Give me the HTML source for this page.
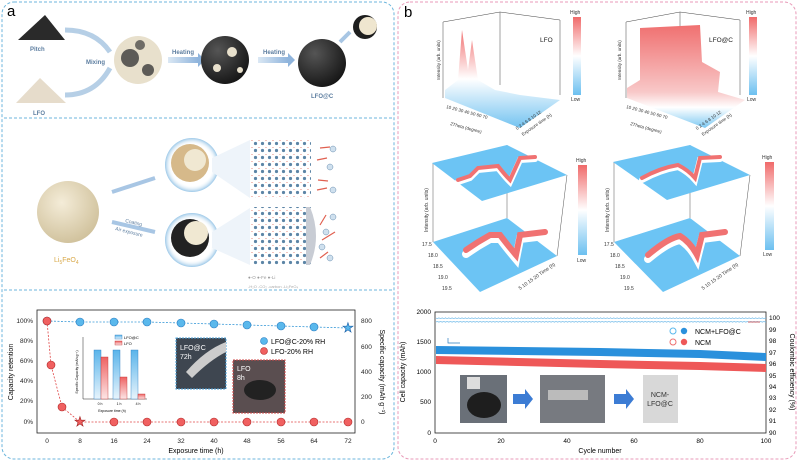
<!DOCTYPE html>
<html><head><meta charset="utf-8"><style>
body{margin:0;background:#fff}
svg{display:block;font-family:"Liberation Sans",sans-serif}
</style></head><body>
<svg width="800" height="462" viewBox="0 0 800 462" xmlns="http://www.w3.org/2000/svg">
<defs>
<linearGradient id="rwb" x1="0" y1="0" x2="0" y2="1"><stop offset="0" stop-color="#f06a6a"/><stop offset="0.5" stop-color="#fff"/><stop offset="1" stop-color="#6cc0f0"/></linearGradient>
<linearGradient id="rwb2" x1="0" y1="0" x2="0" y2="1"><stop offset="0" stop-color="#f07070"/><stop offset="0.65" stop-color="#f8c8c8"/><stop offset="0.8" stop-color="#fff"/><stop offset="1" stop-color="#7cc8f2"/></linearGradient>
<linearGradient id="barb" x1="0" y1="0" x2="0" y2="1"><stop offset="0" stop-color="#5ab4ea"/><stop offset="1" stop-color="#e8f4fc"/></linearGradient>
<linearGradient id="barr" x1="0" y1="0" x2="0" y2="1"><stop offset="0" stop-color="#ee6262"/><stop offset="1" stop-color="#fce6e6"/></linearGradient>
<radialGradient id="ballw" cx="0.4" cy="0.35" r="0.7"><stop offset="0" stop-color="#f4ecd8"/><stop offset="1" stop-color="#cfc09a"/></radialGradient>
<radialGradient id="ballk" cx="0.35" cy="0.3" r="0.75"><stop offset="0" stop-color="#555"/><stop offset="1" stop-color="#151515"/></radialGradient>
<radialGradient id="bub" cx="0.5" cy="0.5" r="0.5"><stop offset="0.75" stop-color="#fff" stop-opacity="0"/><stop offset="1" stop-color="#9cc8e8"/></radialGradient>
<linearGradient id="arr" x1="0" y1="0" x2="1" y2="0"><stop offset="0" stop-color="#dbe8f4"/><stop offset="1" stop-color="#8fb4dc"/></linearGradient>
<pattern id="lat" width="7" height="7" patternUnits="userSpaceOnUse"><circle cx="3.5" cy="3.5" r="1.6" fill="#3f6f96"/><circle cx="0" cy="0" r="0.8" fill="#e07060"/><circle cx="7" cy="0" r="0.8" fill="#e07060"/></pattern>
<pattern id="oc" width="3.3" height="8" patternUnits="userSpaceOnUse"><circle cx="1.65" cy="4" r="2.4" fill="none" stroke="#6cb8e8" stroke-width="0.7"/></pattern>
<pattern id="bc" width="3.3" height="8" patternUnits="userSpaceOnUse"><circle cx="1.65" cy="4" r="2.8" fill="#2a90dc" stroke="#1a6cb0" stroke-width="0.4"/></pattern>
<pattern id="rc" width="3.3" height="8" patternUnits="userSpaceOnUse"><circle cx="1.65" cy="4" r="2.8" fill="#ee5858" stroke="#c03838" stroke-width="0.4"/></pattern>
</defs>

<rect x="2" y="2" width="392" height="457" rx="12" fill="none" stroke="#6cb6dc" stroke-dasharray="3,2"/>
<line x1="4" y1="118" x2="392" y2="118" stroke="#6cb6dc" stroke-dasharray="3,2"/>
<line x1="4" y1="290" x2="392" y2="290" stroke="#6cb6dc" stroke-dasharray="3,2"/>
<rect x="398" y="2" width="398" height="457" rx="12" fill="none" stroke="#e89ab8" stroke-dasharray="3,2"/>
<text x="7" y="16" font-size="15">a</text>
<text x="404" y="17" font-size="15">b</text>

<polygon points="18,40 45,15 65,40" fill="#2a2a2a"/>
<text x="30" y="51" font-size="6" font-weight="bold" fill="#5d7ea0">Pitch</text>
<polygon points="16,103 40,78 66,103" fill="#e6dccb"/>
<text x="33" y="115" font-size="6" font-weight="bold" fill="#5d7ea0">LFO</text>
<path d="M65,30 Q95,30 110,52" stroke="#b6cfe6" stroke-width="5" fill="none"/>
<path d="M65,95 Q95,95 110,68" stroke="#b6cfe6" stroke-width="5" fill="none"/>
<text x="86" y="64" font-size="6" font-weight="bold" fill="#5d7ea0">Mixing</text>
<circle cx="138" cy="60" r="24" fill="#e8e0cc"/>
<circle cx="130" cy="58" r="9" fill="#3a3a3a" opacity="0.8"/><circle cx="148" cy="70" r="6" fill="#3a3a3a" opacity="0.8"/><circle cx="140" cy="45" r="5" fill="#3a3a3a" opacity="0.7"/>
<rect x="168" y="57" width="30" height="6" fill="url(#arr)"/><polygon points="198,53 205,60 198,67" fill="#8fb4dc"/>
<text x="172" y="54" font-size="6" font-weight="bold" fill="#5d7ea0">Heating</text>
<circle cx="225" cy="60" r="24" fill="url(#ballk)"/>
<circle cx="232" cy="52" r="5" fill="#e8e0cc"/><circle cx="217" cy="68" r="4" fill="#e8e0cc"/><circle cx="240" cy="70" r="3" fill="#e8e0cc"/>
<rect x="258" y="57" width="30" height="6" fill="url(#arr)"/><polygon points="288,53 295,60 288,67" fill="#8fb4dc"/>
<text x="263" y="54" font-size="6" font-weight="bold" fill="#5d7ea0">Heating</text>
<circle cx="322" cy="63" r="24" fill="url(#ballk)"/>
<text x="311" y="98" font-size="6" font-weight="bold" fill="#5d7ea0">LFO@C</text>
<line x1="340" y1="42" x2="350" y2="32" stroke="#a8c6e4" stroke-width="4"/>
<circle cx="365" cy="27" r="12" fill="#1e1e1e"/><circle cx="368" cy="26" r="9" fill="#efe6cf"/>

<circle cx="68" cy="212" r="31" fill="url(#ballw)"/>
<text x="54" y="262" font-size="7" fill="#d9a94a">Li<tspan font-size="5" dy="2">5</tspan><tspan dy="-2">FeO</tspan><tspan font-size="5" dy="2">4</tspan></text>
<line x1="112" y1="192" x2="155" y2="178" stroke="#a8c6e4" stroke-width="4"/>
<line x1="112" y1="222" x2="155" y2="232" stroke="#a8c6e4" stroke-width="4"/>
<text x="125" y="222" font-size="5" fill="#5d7ea0" transform="rotate(14 125 222)">Coating</text>
<text x="115" y="230" font-size="5" fill="#5d7ea0" transform="rotate(14 115 230)">Air exposure</text>
<circle cx="192" cy="165" r="27" fill="url(#bub)"/><circle cx="190" cy="163" r="19" fill="#d6b98a"/><circle cx="195" cy="160" r="11" fill="#f0e8d2"/>
<circle cx="192" cy="240" r="27" fill="url(#bub)"/><circle cx="190" cy="238" r="19" fill="#222"/><circle cx="196" cy="233" r="12" fill="#f0e8d2"/>
<polygon points="212,158 250,140 250,198 212,172" fill="#eef4fa"/>
<polygon points="212,232 250,208 250,265 212,248" fill="#eef4fa"/>
<rect x="251" y="140" width="60" height="58" fill="url(#lat)" opacity="0.85"/>
<rect x="251" y="207" width="60" height="58" fill="url(#lat)" opacity="0.85"/>
<path d="M310,207 Q322,236 310,265 L306,265 L306,207Z" fill="#c8ccd4"/>
<g stroke="#e06050" stroke-width="1.2"><line x1="320" y1="148" x2="330" y2="147"/><line x1="317" y1="160" x2="327" y2="158"/><line x1="318" y1="180" x2="328" y2="181"/><line x1="317" y1="190" x2="327" y2="188"/><line x1="320" y1="225" x2="326" y2="215"/><line x1="322" y1="240" x2="335" y2="232"/><line x1="320" y1="258" x2="328" y2="252"/></g>
<g fill="#cfe0ee" stroke="#6a8eb0" stroke-width="0.5"><circle cx="333" cy="149" r="3"/><circle cx="330" cy="167" r="3"/><circle cx="333" cy="190" r="3"/><circle cx="333" cy="217" r="3"/><circle cx="326" cy="232" r="3"/><circle cx="322" cy="247" r="3"/><circle cx="330" cy="258" r="3"/></g>
<text x="248" y="279" font-size="4.5" fill="#999">●-O   ●-Fe   ●-Li</text>
<text x="248" y="288" font-size="4" fill="#aaa">-H₂O  -CO₂  -carbon  -Li₅FeO₄</text>

<rect x="37" y="310" width="318" height="123" fill="none" stroke="#222" stroke-width="0.8"/>
<g font-size="6.5" fill="#222" text-anchor="end">
<text x="33" y="323">100%</text><text x="33" y="343">80%</text><text x="33" y="363">60%</text><text x="33" y="383">40%</text><text x="33" y="403">20%</text><text x="33" y="424">0%</text></g>
<g font-size="6.5" fill="#222"><text x="361" y="323">800</text><text x="361" y="349">600</text><text x="361" y="374">400</text><text x="361" y="399">200</text><text x="361" y="424">0</text></g>
<g font-size="6.5" fill="#222" text-anchor="middle">
<text x="47" y="443">0</text><text x="80" y="443">8</text><text x="114" y="443">16</text><text x="147" y="443">24</text><text x="181" y="443">32</text><text x="214" y="443">40</text><text x="247" y="443">48</text><text x="281" y="443">56</text><text x="314" y="443">64</text><text x="348" y="443">72</text></g>
<text x="196" y="453" font-size="7" text-anchor="middle">Exposure time (h)</text>
<text x="13" y="372" font-size="7" text-anchor="middle" transform="rotate(-90 13 372)">Capacity retention</text>
<text x="380" y="372" font-size="7" text-anchor="middle" transform="rotate(90 380 372)">Specific capacity (mAh g⁻¹)</text>
<polyline points="47,321 80,322 114,322 147,322 181,323 214,324 247,325 281,326 314,327 348,328" fill="none" stroke="#3a9ad8" stroke-width="0.8" stroke-dasharray="2,1.5"/>
<g fill="#5ab8ec" stroke="#2a7cc0" stroke-width="0.6"><circle cx="47" cy="321" r="4"/><circle cx="80" cy="322" r="4"/><circle cx="114" cy="322" r="4"/><circle cx="147" cy="322" r="4"/><circle cx="181" cy="323" r="4"/><circle cx="214" cy="324" r="4"/><circle cx="247" cy="325" r="4"/><circle cx="281" cy="326" r="4"/><circle cx="314" cy="327" r="4"/></g>
<text x="348" y="332" font-size="13" fill="#5ab8ec" stroke="#1a60a8" stroke-width="0.6" text-anchor="middle">★</text>
<polyline points="47,321 51,365 62,407 80,422 348,422" fill="none" stroke="#e04848" stroke-width="0.8" stroke-dasharray="2,1.5"/>
<g fill="#f06060" stroke="#b02828" stroke-width="0.6"><circle cx="47" cy="321" r="4"/><circle cx="51" cy="365" r="4"/><circle cx="62" cy="407" r="4"/><circle cx="114" cy="422" r="4"/><circle cx="147" cy="422" r="4"/><circle cx="181" cy="422" r="4"/><circle cx="214" cy="422" r="4"/><circle cx="247" cy="422" r="4"/><circle cx="281" cy="422" r="4"/><circle cx="314" cy="422" r="4"/><circle cx="348" cy="422" r="4"/></g>
<text x="80" y="426" font-size="13" fill="#f06060" stroke="#a02020" stroke-width="0.6" text-anchor="middle">★</text>
<circle cx="264" cy="341" r="3.5" fill="#5ab8ec" stroke="#2a7cc0" stroke-width="0.6"/>
<text x="271" y="344" font-size="7">LFO@C-20% RH</text>
<circle cx="264" cy="351" r="3.5" fill="#f06060" stroke="#b02828" stroke-width="0.6"/>
<text x="271" y="354" font-size="7">LFO-20% RH</text>
<line x1="83" y1="337" x2="83" y2="399" stroke="#222" stroke-width="0.5"/><line x1="83" y1="399" x2="147" y2="399" stroke="#222" stroke-width="0.5"/>
<rect x="94" y="350" width="7" height="49" fill="url(#barb)" stroke="#2a7cc0" stroke-width="0.4"/>
<rect x="101" y="357" width="7" height="42" fill="url(#barr)" stroke="#c03030" stroke-width="0.4"/>
<rect x="113" y="350" width="7" height="49" fill="url(#barb)" stroke="#2a7cc0" stroke-width="0.4"/>
<rect x="120" y="377" width="7" height="22" fill="url(#barr)" stroke="#c03030" stroke-width="0.4"/>
<rect x="131" y="350" width="7" height="49" fill="url(#barb)" stroke="#2a7cc0" stroke-width="0.4"/>
<rect x="138" y="394" width="7" height="5" fill="url(#barr)" stroke="#c03030" stroke-width="0.4"/>
<rect x="115" y="335" width="7" height="4" fill="url(#barb)" stroke="#2a7cc0" stroke-width="0.4"/><text x="124" y="339" font-size="4">LFO@C</text>
<rect x="115" y="341" width="7" height="4" fill="url(#barr)" stroke="#c03030" stroke-width="0.4"/><text x="124" y="345" font-size="4">LFO</text>
<g font-size="3.5" text-anchor="middle"><text x="100" y="405">0 h</text><text x="119" y="405">1 h</text><text x="138" y="405">4 h</text><text x="112" y="412">Exposure time (h)</text></g>
<text x="78" y="372" font-size="3.5" text-anchor="middle" transform="rotate(-90 78 372)">Specific Capacity (mAh g⁻¹)</text>
<rect x="176" y="338" width="50" height="51" fill="#3e4650" stroke="#4aa0d8" stroke-dasharray="2,1"/>
<path d="M186,372 Q205,350 226,342 L226,352 Q210,360 192,378Z" fill="#ccc"/>
<text x="180" y="350" font-size="7" fill="#fff">LFO@C</text><text x="180" y="359" font-size="7" fill="#fff">72h</text>
<rect x="233" y="360" width="52" height="53" fill="#5a4e50" stroke="#d04848" stroke-dasharray="2,1"/>
<ellipse cx="260" cy="390" rx="16" ry="10" fill="#222"/>
<text x="237" y="371" font-size="7" fill="#fff">LFO</text><text x="237" y="380" font-size="7" fill="#fff">8h</text>

<g stroke="#444" stroke-width="0.5" fill="none">
<polyline points="443,98 443,22 500,12 500,85"/><line x1="500" y1="12" x2="560" y2="20"/><line x1="560" y1="20" x2="560" y2="95"/>
<polyline points="626,98 626,22 680,12 680,85"/><line x1="680" y1="12" x2="740" y2="20"/><line x1="740" y1="20" x2="740" y2="95"/>
</g>
<polygon points="445,90 458,80 462,30 468,70 472,40 478,80 495,90 520,95 560,100 520,128 445,98" fill="url(#rwb)" opacity="0.95"/>
<polygon points="627,88 640,80 640,28 700,25 702,62 720,72 718,92 745,100 705,128 627,98" fill="url(#rwb2)"/>
<g font-size="6.5" fill="#222"><text x="540" y="42">LFO</text><text x="709" y="42">LFO@C</text></g>
<g font-size="4.5" fill="#333">
<text x="446" y="108" transform="rotate(15 446 108)">10 20 30 40 50 60 70</text>
<text x="450" y="125" transform="rotate(15 450 125)">2Theta (degree)</text>
<text x="517" y="130" transform="rotate(-35 517 130)">0 2 4 6 8 10 12</text>
<text x="523" y="136" transform="rotate(-35 523 136)">Exposure time (h)</text>
<text x="626" y="108" transform="rotate(15 626 108)">10 20 30 40 50 60 70</text>
<text x="630" y="125" transform="rotate(15 630 125)">2Theta (degree)</text>
<text x="697" y="130" transform="rotate(-35 697 130)">0 2 4 6 8 10 12</text>
<text x="703" y="136" transform="rotate(-35 703 136)">Exposure time (h)</text>
<text x="440" y="60" transform="rotate(-90 440 60)" text-anchor="middle">Intensity (arb. units)</text>
<text x="621" y="60" transform="rotate(-90 621 60)" text-anchor="middle">Intensity (arb. units)</text>
</g>
<rect x="573" y="17" width="8" height="78" fill="url(#rwb)"/><rect x="749" y="17" width="8" height="78" fill="url(#rwb)"/>
<g font-size="5" fill="#333"><text x="570" y="14">High</text><text x="571" y="101">Low</text><text x="746" y="14">High</text><text x="747" y="101">Low</text></g>

<g stroke="#555" stroke-width="0.5" fill="none">
<line x1="433" y1="163" x2="433" y2="242"/><line x1="507" y1="145" x2="507" y2="218"/><line x1="567" y1="175" x2="557" y2="256"/>
<line x1="614" y1="162" x2="614" y2="242"/><line x1="690" y1="145" x2="690" y2="218"/><line x1="750" y1="175" x2="740" y2="256"/>
</g>
<polygon points="432,163 507,145 567,175 482,201" fill="#6cc4f4"/>
<polygon points="433,242 507,218 557,256 480,292" fill="#6cc4f4"/>
<polygon points="613,162 690,145 750,175 667,200" fill="#6cc4f4"/>
<polygon points="614,242 690,218 740,256 663,292" fill="#6cc4f4"/>
<g fill="none" stroke-linecap="round">
<path d="M458,182 L470,178 L478,170 L498,168 Q505,177 510,182 L520,160 L535,159" stroke="#fff" stroke-width="6"/>
<path d="M458,180 L470,176 L478,168 L498,166 Q505,175 510,180 L520,158 L535,157" stroke="#f07272" stroke-width="4"/>
<path d="M466,254 L478,246 L490,239 L500,239 Q510,252 516,259 L520,239 L545,236" stroke="#fff" stroke-width="8"/>
<path d="M466,250 L478,242 L490,235 L500,235 Q510,248 516,255 L520,235 L545,232" stroke="#f07272" stroke-width="6"/>
<path d="M642,180 Q660,170 678,167 Q688,172 695,180 L700,160 L720,159" stroke="#fff" stroke-width="6"/>
<path d="M642,178 Q660,168 678,165 Q688,170 695,178 L700,158 L720,157" stroke="#f07272" stroke-width="4"/>
<path d="M648,259 Q668,242 680,240 Q690,246 697,259 L702,239 L725,236" stroke="#fff" stroke-width="8"/>
<path d="M648,255 Q668,238 680,236 Q690,242 697,255 L702,235 L725,232" stroke="#f07272" stroke-width="6"/>
</g>
<rect x="578" y="165" width="9" height="90" fill="url(#rwb)"/><rect x="765" y="162" width="9" height="88" fill="url(#rwb)"/>
<g font-size="5" fill="#333"><text x="576" y="162">High</text><text x="577" y="262">Low</text><text x="762" y="159">High</text><text x="763" y="256">Low</text>
<text x="422" y="246">17.5</text><text x="428" y="257">18.0</text><text x="433" y="268">18.5</text><text x="438" y="279">19.0</text><text x="442" y="290">19.5</text>
<text x="604" y="246">17.5</text><text x="610" y="257">18.0</text><text x="615" y="268">18.5</text><text x="620" y="279">19.0</text><text x="624" y="290">19.5</text>
<text x="520" y="290" transform="rotate(-35 520 290)">5  10  15  20 Time (h)</text>
<text x="703" y="290" transform="rotate(-35 703 290)">5  10  15  20 Time (h)</text>
<text x="428" y="210" transform="rotate(-90 428 210)" text-anchor="middle">Intensity (arb. units)</text>
<text x="609" y="210" transform="rotate(-90 609 210)" text-anchor="middle">Intensity (arb. units)</text>
</g>

<rect x="435" y="312" width="331" height="121" fill="none" stroke="#222" stroke-width="0.8"/>
<g font-size="6.5" text-anchor="end"><text x="431" y="314">2000</text><text x="431" y="344">1500</text><text x="431" y="374">1000</text><text x="431" y="404">500</text><text x="431" y="435">0</text></g>
<g font-size="6.5"><text x="769" y="320">100</text><text x="769" y="332">99</text><text x="769" y="343">98</text><text x="769" y="355">97</text><text x="769" y="366">96</text><text x="769" y="378">95</text><text x="769" y="389">94</text><text x="769" y="400">93</text><text x="769" y="412">92</text><text x="769" y="423">91</text><text x="769" y="435">90</text></g>
<g font-size="6.5" text-anchor="middle"><text x="435" y="443">0</text><text x="501" y="443">20</text><text x="567" y="443">40</text><text x="634" y="443">60</text><text x="700" y="443">80</text><text x="766" y="443">100</text></g>
<text x="600" y="453" font-size="7" text-anchor="middle">Cycle number</text>
<text x="405" y="372" font-size="7" text-anchor="middle" transform="rotate(-90 405 372)">Cell capacity (mAh)</text>
<text x="790" y="372" font-size="7" text-anchor="middle" transform="rotate(90 790 372)">Coulombic efficiency (%)</text>
<rect x="436" y="315" width="330" height="8" fill="url(#oc)"/>
<polygon points="436,346 600,348 700,350 766,353 766,361 700,358 600,356 436,354" fill="#2a90dc"/>
<polygon points="436,356 600,360 700,362 766,364 766,372 700,370 600,368 436,364" fill="#ee5858"/>
<polyline points="460,343 448,343 448,338" fill="none" stroke="#2a7cc0" stroke-width="0.7"/>
<line x1="748" y1="322" x2="760" y2="322" stroke="#d03030" stroke-width="0.7"/>
<circle cx="673" cy="331" r="3" fill="none" stroke="#5ab8ec"/><circle cx="684" cy="331" r="3.2" fill="#2a90dc"/>
<text x="695" y="334" font-size="7">NCM+LFO@C</text>
<circle cx="673" cy="342" r="3" fill="none" stroke="#ee7070"/><circle cx="684" cy="342" r="3.2" fill="#ee5858"/>
<text x="695" y="345" font-size="7">NCM</text>
<rect x="460" y="375" width="47" height="48" fill="#6a7078"/><ellipse cx="484" cy="405" rx="17" ry="13" fill="#1e1e1e"/><rect x="467" y="377" width="13" height="12" fill="#ddd"/>
<polygon points="513,394 525,394 525,389 533,399 525,409 525,404 513,404" fill="#3c7cd4"/>
<rect x="540" y="375" width="65" height="48" fill="#777a80"/><rect x="548" y="390" width="40" height="10" fill="#bbb"/>
<polygon points="614,394 626,394 626,389 634,399 626,409 626,404 614,404" fill="#3c7cd4"/>
<rect x="643" y="375" width="35" height="48" fill="#d8d8d8"/>
<text x="660" y="397" font-size="7" text-anchor="middle" fill="#333">NCM-</text><text x="660" y="406" font-size="7" text-anchor="middle" fill="#333">LFO@C</text>
</svg>
</body></html>
